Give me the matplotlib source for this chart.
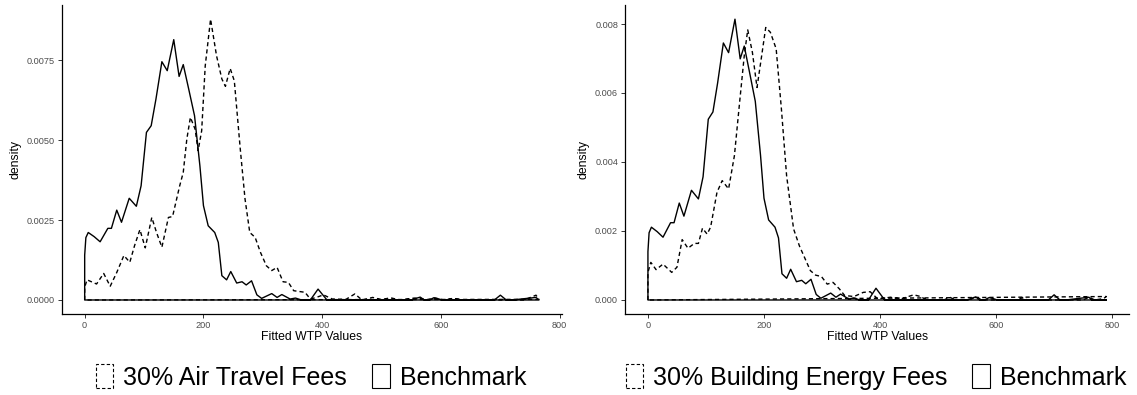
import numpy as np
import matplotlib.pyplot as plt
from matplotlib.patches import Patch

plt.rcParams['font.family'] = ['Liberation Sans', 'DejaVu Sans']

# benchmark density (same in both panels)
bench_x = [0, 0, 2, 6, 16, 26, 39, 45, 54, 62, 75, 87, 95, 104, 112, 120, 130, 139, 150,
           159, 166, 175, 185, 194, 200, 208, 219, 225, 231, 239, 246, 256, 265, 272, 281,
           290, 298, 315, 324, 332, 346, 355, 365, 380, 393, 408, 550, 558, 565, 572, 580,
           588, 595, 602, 690, 700, 710, 720, 760, 765]
bench_y = [0, 0.00140, 0.00195, 0.00211, 0.00198, 0.00182, 0.00224, 0.00224, 0.00281,
           0.00243, 0.00318, 0.00293, 0.00357, 0.00524, 0.00545, 0.00628, 0.00745, 0.00717,
           0.00814, 0.00699, 0.00736, 0.00661, 0.00576, 0.00420, 0.00295, 0.00232, 0.00211,
           0.00180, 0.00076, 0.00063, 0.00089, 0.00053, 0.00057, 0.00047, 0.00060, 0.00016,
           0.00005, 0.00020, 0.00008, 0.00017, 0.00003, 0.00006, 0.0, 0.0, 0.00034, 0.0,
           0.0, 0.00005, 0.00009, 0.0, 0.0, 0.00007, 0.00004, 0.0, 0.0, 0.00015, 0.0, 0.0,
           0.00008, 0.0]
# baseline end of the benchmark outline in each panel
bench_end = [765, 790]

# 30% Air Travel Fees
air_x = [0, 0, 4, 20, 32, 43, 54, 66, 76, 84, 93, 102, 113, 121, 130, 141, 148, 160, 166,
         172, 178, 186, 191, 197, 203, 212, 222, 231, 237, 245, 252, 262, 270, 278, 287,
         296, 306, 315, 324, 334, 343, 352, 371, 380, 390, 402, 417, 440, 455, 467, 485,
         500, 515, 530, 555, 565, 575, 590, 605, 620, 640, 740, 760, 765]
air_y = [0, 0.00040, 0.00063, 0.00050, 0.00083, 0.00043, 0.00086, 0.00139, 0.00118,
         0.00170, 0.00220, 0.00163, 0.00258, 0.00211, 0.00165, 0.00258, 0.00261, 0.00357,
         0.00399, 0.00503, 0.00571, 0.00534, 0.00467, 0.00529, 0.00732, 0.00878, 0.00764,
         0.00691, 0.00668, 0.00724, 0.00685, 0.00472, 0.00316, 0.00211, 0.00196, 0.00149,
         0.00107, 0.00092, 0.00102, 0.00057, 0.00055, 0.00029, 0.00024, 0.00003, 0.00008,
         0.00016, 0.00003, 0.00002, 0.00019, 0.0, 0.00008, 0.00001, 0.00007, 0.0, 0.00006,
         0.00005, 0.0, 0.00006, 0.0, 0.00005, 0.0, 0.0, 0.00015, 0.00002]

# 30% Building Energy Fees
bld_x = [0, 0, 5, 14, 26, 41, 50, 59, 69, 80, 87, 94, 102, 108, 119, 128, 139, 149, 158,
         166, 172, 180, 188, 196, 203, 211, 221, 230, 239, 251, 261, 271, 280, 289, 299,
         309, 319, 330, 339, 355, 371, 383, 396, 418, 436, 458, 470, 480, 510, 520, 530,
         555, 565, 575, 635, 645, 655, 750, 760, 770, 785, 790]
bld_y = [0, 0.00080, 0.00109, 0.00088, 0.00104, 0.00080, 0.00095, 0.00175, 0.00150,
         0.00164, 0.00164, 0.00208, 0.00191, 0.00211, 0.00312, 0.00346, 0.00322, 0.00418,
         0.00573, 0.00708, 0.00783, 0.00718, 0.00616, 0.00708, 0.00790, 0.00776, 0.00728,
         0.00554, 0.00360, 0.00206, 0.00157, 0.00119, 0.00085, 0.00072, 0.00068, 0.00046,
         0.00051, 0.00032, 0.00013, 0.00010, 0.00022, 0.00024, 0.00003, 0.00008, 0.00003,
         0.00015, 0.00010, 0.0, 0.0, 0.00008, 0.0, 0.0, 0.00010, 0.0, 0.0, 0.00006, 0.0,
         0.0, 0.00008, 0.0, 0.00004, 0.00010]

panels = [
    ('30% Air Travel Fees', air_x, air_y, [0, 0.0025, 0.0050, 0.0075], '{:.4f}'),
    ('30% Building Energy Fees', bld_x, bld_y, [0, 0.002, 0.004, 0.006, 0.008], '{:.3f}'),
]
x_ticks = [0, 200, 400, 600, 800]

fig = plt.figure(figsize=(11.37, 3.95), dpi=100)
axes_pos = [[0.0545, 0.205, 0.4395, 0.782], [0.5497, 0.205, 0.4435, 0.782]]
legend_pos = [311 / 1137, 876 / 1137]

for (name, px, py, yt, fmt), pos, lx, bend in zip(panels, axes_pos, legend_pos, bench_end):
    ax = fig.add_axes(pos)
    # outline of each density, closed along the baseline
    ax.fill(px + [px[0]], py + [0], fill=False, edgecolor='black', lw=1.0,
            ls=(0, (3, 2.2)), joinstyle='round')
    bx = bench_x + [bend, bench_x[0]]
    by = bench_y + [0, 0]
    ax.fill(bx, by, fill=False, edgecolor='black', lw=1.0, joinstyle='round')

    xmax = max(max(px), bend)
    ymax = max(max(py), max(bench_y))
    ax.set_xlim(-0.05 * xmax, 1.05 * xmax)
    ax.set_ylim(-0.05 * ymax, 1.05 * ymax)
    ax.set_xticks(x_ticks)
    ax.set_yticks(yt)
    ax.set_yticklabels([fmt.format(v) for v in yt])
    for s in ['top', 'right']:
        ax.spines[s].set_visible(False)
    for s in ['left', 'bottom']:
        ax.spines[s].set_linewidth(0.9)
    ax.tick_params(labelsize=6.6, colors='#333333', labelcolor='#4d4d4d', length=3,
                   width=0.7, pad=2)
    ax.set_xlabel('Fitted WTP Values', fontsize=8.8, labelpad=1)
    ax.set_ylabel('density', fontsize=8.8, labelpad=4)

    handles = [Patch(facecolor='white', edgecolor='black', ls=(0, (3, 2)), lw=0.8),
               Patch(facecolor='white', edgecolor='black', lw=0.8)]
    fig.legend(handles, [name, 'Benchmark'], loc='center', ncol=2,
               bbox_to_anchor=(lx, 1 - 377 / 395), frameon=False, fontsize=18,
               handlelength=0.7, handleheight=1.1, handletextpad=0.4,
               columnspacing=1.0, borderpad=0)

fig.savefig('out.png', dpi=100)
